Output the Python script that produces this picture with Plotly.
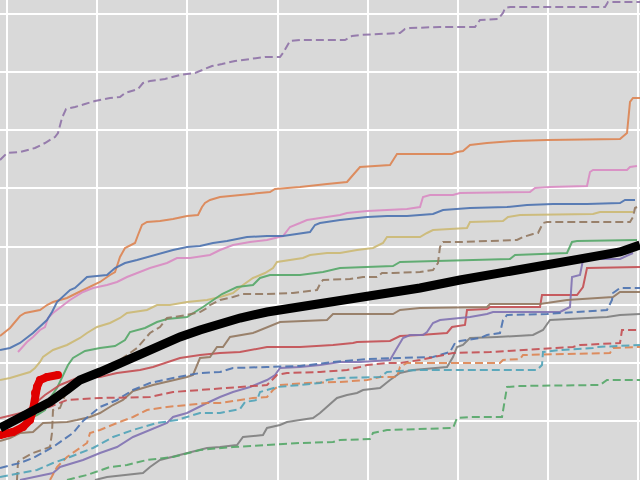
import plotly.graph_objects as go

# ---- data (x = time index, y = cumulative value) ----
purple_dash_x = [0,7,20,35,45,55,58,62,66,75,85,95,110,120,125,138,143,150,165,180,195,212,222,235,250,265,280,283,290,300,345,352,360,380,400,405,410,440,475,480,498,503,505,510,605,608,640]
purple_dash_y = [320,327,328,332,337,343,347,362,371,373,376,379,382,383,387,391,397,399,401,405,407,414,416,419,421,423,423,427,439,440,440,444,445,446,447,451,452,453,453,460,461,467,472,473,473,478,478]

orange_x = [0,10,20,25,40,47,53,67,77,87,100,110,115,118,120,125,135,138,142,147,160,173,187,198,202,205,210,220,240,260,270,275,300,327,347,353,360,390,393,397,452,457,463,470,487,513,547,620,627,630,633,640]
orange_y = [144,152,164,167,170,175,178,182,187,192,198,205,208,217,223,232,237,245,255,258,259,261,264,265,273,277,280,283,285,287,288,291,293,296,298,305,313,315,320,326,326,328,329,335,337,339,340,341,347,378,382,382]

pink_x = [18,27,33,40,45,48,53,60,70,83,93,107,117,127,137,150,167,177,190,210,220,233,250,267,283,290,300,307,320,340,347,367,387,407,420,423,430,453,460,530,535,550,587,590,593,627,630,637]
pink_y = [128,138,143,150,153,162,167,172,180,188,192,195,198,203,207,212,217,222,222,225,230,235,238,240,244,253,257,260,262,265,267,269,270,271,273,283,285,285,287,288,292,293,294,308,310,310,313,314]

blue_x = [0,10,20,33,47,52,57,62,70,75,80,87,97,107,115,125,137,148,163,173,187,200,213,227,247,267,283,297,310,315,320,340,367,387,407,420,433,443,470,507,527,553,587,620,625,635]
blue_y = [130,132,137,147,160,168,178,183,190,192,197,203,204,205,212,217,220,223,227,230,233,234,237,239,243,244,244,246,248,255,257,260,263,264,264,265,266,270,272,273,275,276,276,277,280,280]

gold_x = [0,10,20,30,35,40,43,53,67,80,87,97,110,120,127,147,157,170,187,207,220,233,243,253,265,273,277,293,303,310,327,340,357,373,383,387,400,420,427,433,467,470,503,508,520,593,600,633]
gold_y = [100,102,105,108,112,118,123,130,135,142,147,153,157,162,167,170,175,175,178,180,183,187,195,202,207,212,218,220,222,225,227,227,230,232,237,243,243,243,247,250,252,258,259,263,265,266,268,268]

brown_dash_x = [17,18,20,33,50,52,53,60,67,72,80,100,120,137,150,160,167,173,187,200,207,210,220,233,243,267,293,317,320,323,350,363,377,382,393,420,433,438,440,443,460,517,523,533,538,543,547,587,630,633,635,637]
brown_dash_y = [0,18,20,27,33,47,70,72,90,97,102,110,120,132,147,153,162,163,165,168,172,175,180,183,186,186,187,190,196,200,201,203,203,207,207,208,210,217,233,238,238,240,243,246,247,257,258,258,258,263,272,273]

green_x = [30,37,45,50,57,63,68,73,85,100,115,125,130,145,157,167,187,203,213,222,237,253,260,270,300,323,340,393,400,510,515,567,572,577,637]
green_y = [62,65,70,82,92,105,115,122,129,132,134,140,148,152,158,161,163,173,180,186,193,195,202,205,205,208,212,214,218,221,225,227,238,239,240]

mean_x = [0,20,33,50,67,80,100,120,140,160,180,200,220,240,267,300,333,367,393,420,460,500,540,580,620,640]
mean_y = [52,62,68,78,90,100,108,117,127,135,143,150,157,162,168,173,180,184,188,192,200,207,215,220,228,235]

red_x = [0,25,45,60,77,100,117,140,153,167,180,200,220,240,267,300,333,353,357,390,400,420,447,452,465,467,487,490,540,542,577,583,587,640]
red_y = [62,68,85,95,102,103,107,110,113,118,122,125,127,128,133,133,135,137,138,139,144,145,147,153,155,170,171,173,173,185,185,193,212,213]

purple_x = [20,53,60,83,100,117,133,150,167,173,187,207,220,233,250,267,275,280,300,320,340,360,390,397,403,410,423,427,433,440,470,487,493,560,570,572,580,583,590,620,633]
purple_y = [0,7,13,20,27,33,43,50,57,63,67,77,83,88,93,100,105,112,113,115,118,118,120,132,142,145,145,148,157,160,163,166,168,168,173,203,205,220,221,221,227]

brown_x = [0,10,20,33,43,67,77,90,100,113,123,133,153,167,187,193,200,210,217,223,230,253,267,280,327,333,393,400,420,487,490,540,567,613,620,640]
brown_y = [39,42,47,48,57,58,60,63,67,75,80,89,95,98,103,105,122,123,133,133,143,147,153,158,160,166,166,170,172,173,176,176,180,183,188,188]

blue_dash_x = [0,20,33,53,73,83,100,117,133,150,173,200,220,233,267,300,333,367,400,433,450,455,460,480,487,500,503,507,547,580,607,612,613,620,640]
blue_dash_y = [12,17,22,33,47,59,73,80,90,97,102,107,108,112,113,114,118,121,122,123,128,137,139,142,145,147,160,165,166,168,170,180,187,192,192]

gray_x = [95,107,143,150,160,187,207,220,237,243,263,267,280,287,300,313,320,327,333,337,347,357,363,380,390,400,413,447,453,457,463,470,497,533,543,550,607,620,640]
gray_y = [0,3,7,13,20,27,32,33,35,43,45,52,55,58,60,62,67,73,78,82,85,87,90,92,100,107,110,113,123,133,135,142,143,145,150,160,163,165,166]

red_dash_x = [37,67,100,150,173,200,220,233,267,277,287,320,347,360,367,387,400,420,433,453,490,573,580,620,622,640]
red_dash_y = [68,80,82,83,88,90,92,93,95,105,107,108,110,113,115,117,117,120,123,127,128,133,135,137,150,150]

orange_dash_x = [50,57,67,77,87,90,100,117,133,147,167,187,207,220,240,253,267,273,280,307,340,367,380,397,400,407,500,503,520,523,610,613,640]
orange_dash_y = [0,13,23,30,37,47,50,57,63,70,73,75,77,77,80,82,83,90,95,97,98,100,103,103,113,117,117,120,121,125,127,132,133]

cyan_dash_x = [0,20,37,53,70,93,113,133,157,177,200,220,240,245,257,260,277,300,320,327,340,380,387,400,420,537,542,543,560,593,597,640]
cyan_dash_y = [3,7,10,17,23,32,43,50,57,60,67,67,71,78,80,88,93,95,97,100,102,103,108,109,110,110,115,128,130,132,133,135]

green_dash_x = [67,87,110,127,147,173,200,233,267,300,333,340,370,373,387,420,453,457,470,502,507,520,600,607,640]
green_dash_y = [0,5,13,15,20,23,30,33,35,37,38,40,41,47,50,51,52,62,63,63,93,94,95,100,100]

obs_x = [0,13,23,30,33,35,37,40,47,58]
obs_y = [45,48,53,60,70,87,93,100,103,105]

# ---- styling ----
DASH = "8px,4px"
series = [
    (orange_x, orange_y, "#DD8452", 2, "solid", 0.9),
    (pink_x, pink_y, "#DA8BC3", 2, "solid", 0.9),
    (blue_x, blue_y, "#4C72B0", 2, "solid", 0.9),
    (gold_x, gold_y, "#CCB974", 2, "solid", 0.9),
    (green_x, green_y, "#55A868", 2, "solid", 0.9),
    (red_x, red_y, "#C44E52", 2, "solid", 0.9),
    (purple_x, purple_y, "#8172B3", 2, "solid", 0.9),
    (brown_x, brown_y, "#937860", 2, "solid", 0.9),
    (gray_x, gray_y, "#7F7F7F", 2, "solid", 0.9),
    (purple_dash_x, purple_dash_y, "#8F73A8", 2, DASH, 0.9),
    (brown_dash_x, brown_dash_y, "#937860", 2, DASH, 0.9),
    (blue_dash_x, blue_dash_y, "#4C72B0", 2, DASH, 0.9),
    (red_dash_x, red_dash_y, "#C44E52", 2, DASH, 0.9),
    (orange_dash_x, orange_dash_y, "#DD8452", 2, DASH, 0.9),
    (cyan_dash_x, cyan_dash_y, "#4FA3B8", 2, DASH, 0.9),
    (green_dash_x, green_dash_y, "#55A868", 2, DASH, 0.9),
]

fig = go.Figure()
for xs, ys, col, w, dash, op in series:
    fig.add_trace(go.Scatter(x=xs, y=ys, mode="lines", opacity=op,
                             line=dict(color=col, width=w, dash=dash),
                             hoverinfo="skip", showlegend=False))

fig.add_trace(go.Scatter(x=obs_x, y=obs_y, mode="lines+markers",
                         line=dict(color="#E00000", width=8),
                         marker=dict(color="#E00000", size=8),
                         hoverinfo="skip", showlegend=False))
fig.add_trace(go.Scatter(x=mean_x, y=mean_y, mode="lines",
                         line=dict(color="#000000", width=9),
                         hoverinfo="skip", showlegend=False))

BG = "#D9D9D9"
fig.update_layout(
    width=640, height=480,
    margin=dict(l=0, r=0, t=0, b=0, pad=0),
    plot_bgcolor=BG, paper_bgcolor=BG,
    showlegend=False,
)
fig.update_xaxes(range=[0, 640], tick0=7, dtick=90.17, showticklabels=False,
                 showgrid=True, gridcolor="white", gridwidth=2,
                 zeroline=False, showline=False, ticks="")
fig.update_yaxes(range=[0, 480], tick0=0.86, dtick=58.14, showticklabels=False,
                 showgrid=True, gridcolor="white", gridwidth=2,
                 zeroline=False, showline=False, ticks="")

fig.write_html("out.html")
